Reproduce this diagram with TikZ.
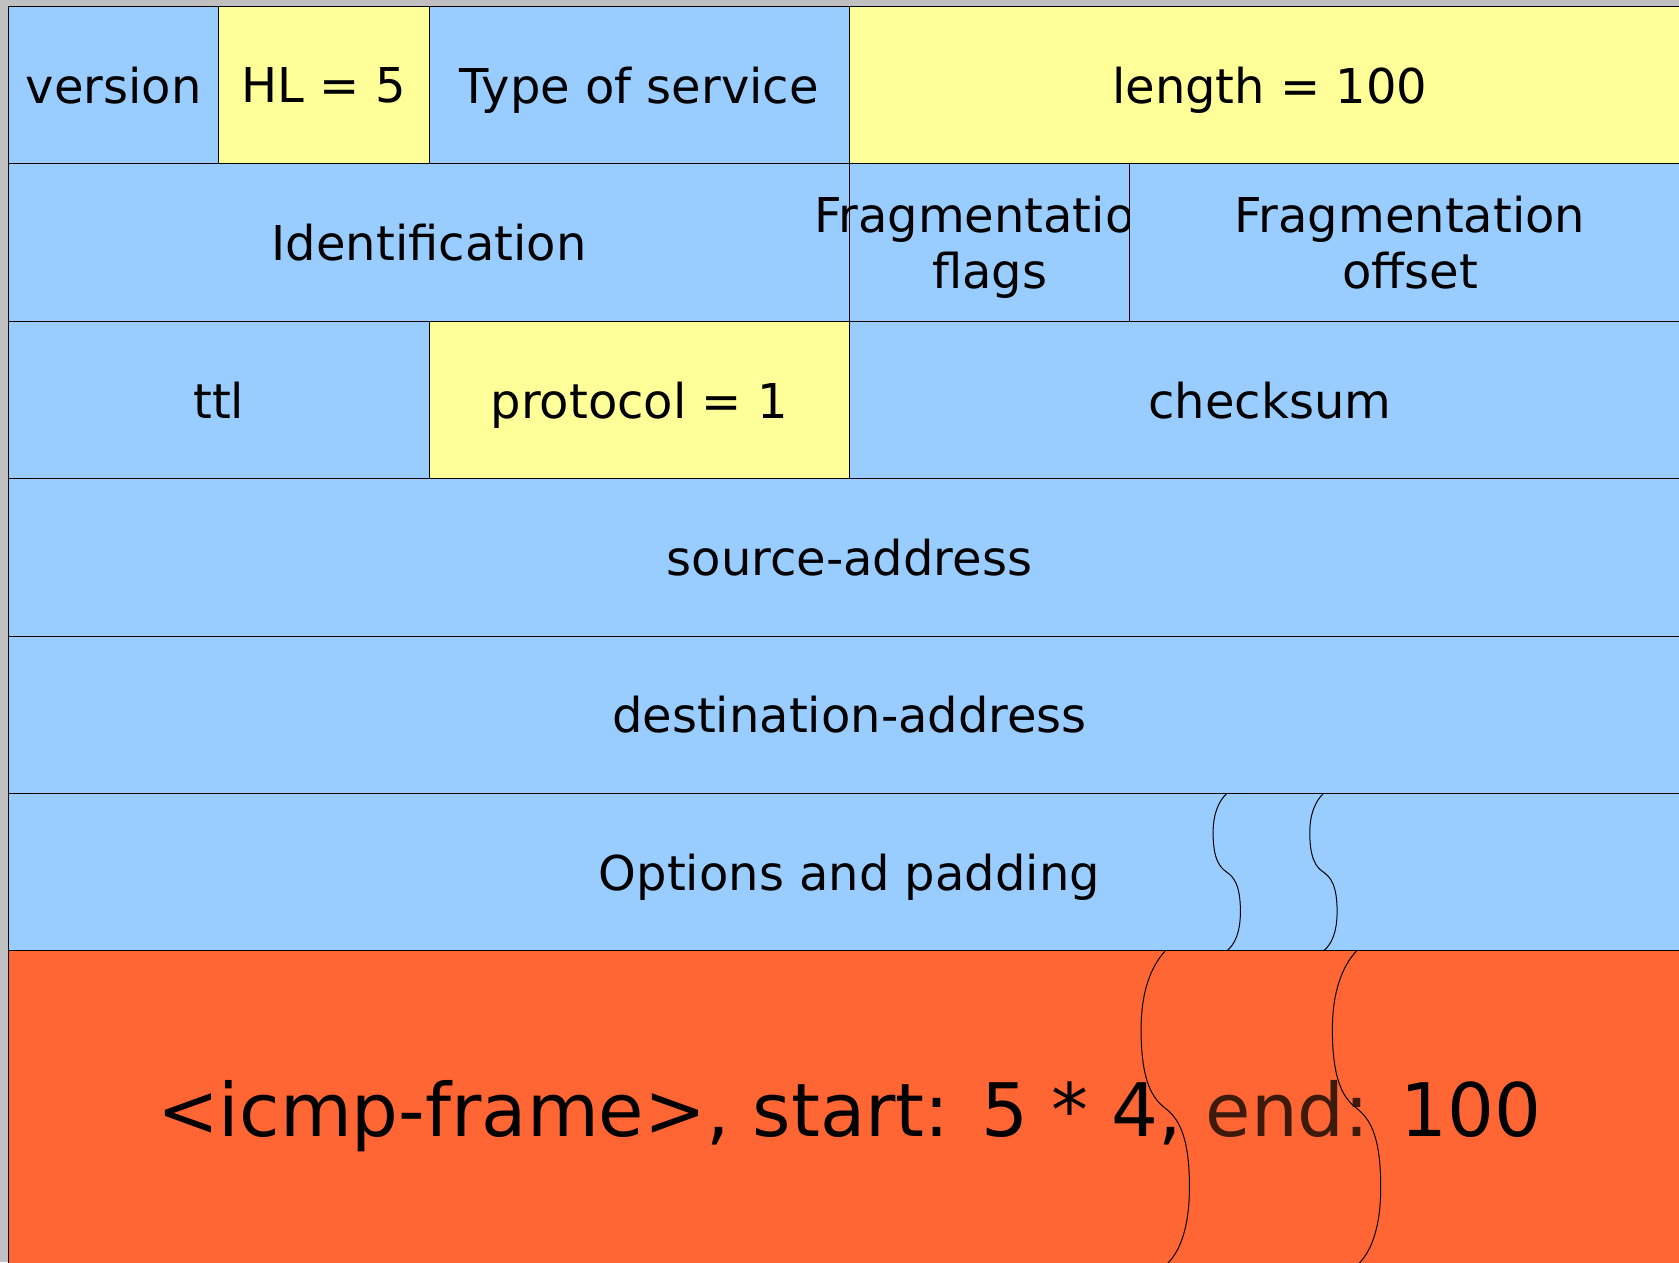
\documentclass[tikz,border=0pt]{standalone}
\usepackage{fontspec}
\setmainfont{DejaVu Sans}

\definecolor{hdrblue}{HTML}{99CCFF}
\definecolor{hdryellow}{HTML}{FFFF99}
\definecolor{icmporange}{HTML}{FF6633}
\definecolor{pagegray}{HTML}{C0C0C0}
\definecolor{endbrown}{HTML}{3C1A0C}

\newcommand{\bitwd}{26.275pt}
\newcommand{\rowht}{78.7pt}

\begin{document}
\begin{tikzpicture}[x=26.275pt,y=-78.7pt,
  field/.style={draw=black,line width=0.5pt,minimum width=#1*\bitwd,minimum height=\rowht,inner sep=0pt,text depth=0pt,align=center,font=\fontsize{24}{27.9}\selectfont},
  brk/.pic={\draw[line width=0.5pt] (0,0) .. controls (-0.6,0.05) and (-1,0.13) .. (-1,0.25) .. controls (-1,0.42) and (-0.5,0.47) .. (0,0.5) .. controls (0.5,0.53) and (1,0.58) .. (1,0.75) .. controls (1,0.88) and (0.6,0.96) .. (0,1);}]
\useasboundingbox (-0.1637,-0.0407) rectangle (31.786,7.977);
\clip (-0.1637,-0.0407) rectangle (31.786,7.977);
\fill[pagegray] (-0.1637,-0.0407) rectangle (31.786,7.977);
% row 1
\node[field=4,fill=hdrblue] (version) at (2,0.5) {version};
\node[field=4,fill=hdryellow] (hl) at (6,0.5) {HL = 5};
\node[field=8,fill=hdrblue] (tos) at (12,0.5) {Type of service};
\node[field=16,fill=hdryellow] (length) at (24,0.5) {length = 100};
% row 2
\node[field=16,fill=hdrblue] (ident) at (8,1.5) {Identification};
\node[field=16/3,fill=hdrblue] (fflags) at (16+8/3,1.5) {\makebox[0pt]{Fragmentation}\\flags};
\node[field=32/3,fill=hdrblue] (foffset) at (16+16/3+16/3,1.5) {Fragmentation\\offset};
% row 3
\node[field=8,fill=hdrblue] (ttl) at (4,2.5) {ttl};
\node[field=8,fill=hdryellow] (proto) at (12,2.5) {protocol = 1};
\node[field=16,fill=hdrblue] (checksum) at (24,2.5) {checksum};
% addresses and options
\node[field=32,fill=hdrblue] (src) at (16,3.5) {source-address};
\node[field=32,fill=hdrblue] (dst) at (16,4.5) {destination-address};
\node[field=32,fill=hdrblue] (opts) at (16,5.5) {Options and padding};
\node[field=32,fill=icmporange,minimum height=2*\rowht,font=\fontsize{36.9}{44}\selectfont] (icmp) at (16,7) {<icmp-frame>, start: 5 * 4, \textcolor{endbrown}{end:} 100};
% break marks
\pic[xscale=0.26] at (23.18,5) {brk};
\pic[xscale=0.26] at (25.02,5) {brk};
\pic[xscale=0.46,yscale=2] at (22.01,6) {brk};
\pic[xscale=0.46,yscale=2] at (25.65,6) {brk};
\end{tikzpicture}
\end{document}
